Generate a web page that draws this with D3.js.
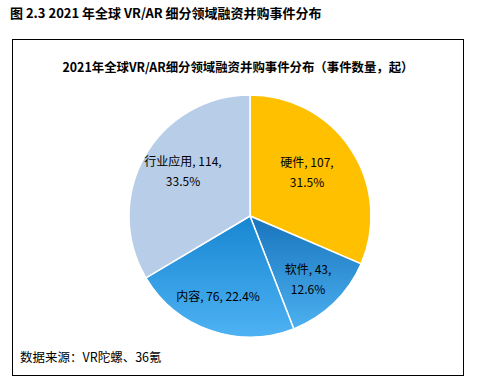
<!doctype html>
<html lang="zh">
<head>
<meta charset="utf-8">
<script src="https://cdn.jsdelivr.net/npm/d3@7/dist/d3.min.js"></script>
<style>
  body { margin: 0; background: #fff; }
  svg text { font-family: "Noto Sans CJK SC", "Noto Sans", sans-serif; }
</style>
</head>
<body>
<svg></svg>
<script>
var width = 483;
var height = 384;

var categories = ['硬件', '软件', '内容', '行业应用'];
var values = [107, 43, 76, 114];
var percents = ['31.5%', '12.6%', '22.4%', '33.5%'];

var svg = d3.select('svg').attr('width', width).attr('height', height);

var defs = svg.append('defs');
var gradStops = [
  ['#1874BD', '#4CB0F0'],
  ['#1786D2', '#4EB2F3']
];
gradStops.forEach(function (s, i) {
  var g = defs.append('linearGradient')
    .attr('id', 'blue' + i)
    .attr('x1', 0).attr('y1', 0).attr('x2', 0).attr('y2', 1);
  g.append('stop').attr('offset', '0%').attr('stop-color', s[0]);
  g.append('stop').attr('offset', '100%').attr('stop-color', s[1]);
});
var fills = ['#FFC000', 'url(#blue0)', 'url(#blue1)', '#B7CDE8'];

// page title
svg.append('text')
  .attr('x', 10).attr('y', 18)
  .attr('font-size', '13px').attr('font-weight', 'bold')
  .text('图 2.3 2021 年全球 VR/AR 细分领域融资并购事件分布');

// frame
svg.append('rect')
  .attr('x', 12.5).attr('y', 39.5)
  .attr('width', 451).attr('height', 336)
  .attr('fill', 'none').attr('stroke', '#000').attr('stroke-width', 1);

svg.append('text')
  .attr('x', 238).attr('y', 72)
  .attr('text-anchor', 'middle')
  .attr('font-size', '12.4px').attr('font-weight', 'bold')
  .text('2021年全球VR/AR细分领域融资并购事件分布（事件数量，起）');

var cx = 250, cy = 216, r = 121;
var pie = d3.pie().sort(null).value(function (d) { return d; });
var arc = d3.arc().innerRadius(0).outerRadius(r);
var arcs = pie(values);

var g = svg.append('g').attr('transform', 'translate(' + cx + ',' + cy + ')');
g.selectAll('path')
  .data(arcs)
  .enter()
  .append('path')
  .attr('d', arc)
  .attr('fill', function (d, i) { return fills[i]; })
  .attr('stroke', '#fff')
  .attr('stroke-width', 1.5);

// label positions (relative to center) and line splits
var labelPos = [[57, -43], [58, 64], [-32, 81], [-67, -44]];
var lines = [
  [categories[0] + ', ' + values[0] + ',', percents[0]],
  [categories[1] + ', ' + values[1] + ',', percents[1]],
  [categories[2] + ', ' + values[2] + ', ' + percents[2]],
  [categories[3] + ', ' + values[3] + ',', percents[3]]
];

arcs.forEach(function (d, i) {
  var t = g.append('text')
    .attr('text-anchor', 'middle')
    .attr('font-size', '12px')
    .attr('fill', '#000');
  var ls = lines[i];
  var y0 = labelPos[i][1] - (ls.length - 1) * 10;
  ls.forEach(function (s, j) {
    t.append('tspan')
      .attr('x', labelPos[i][0])
      .attr('y', y0 + j * 20 + 4)
      .text(s);
  });
});

svg.append('text')
  .attr('x', 20).attr('y', 362)
  .attr('font-size', '12.5px')
  .text('数据来源：VR陀螺、36氪');
</script>
</body>
</html>
